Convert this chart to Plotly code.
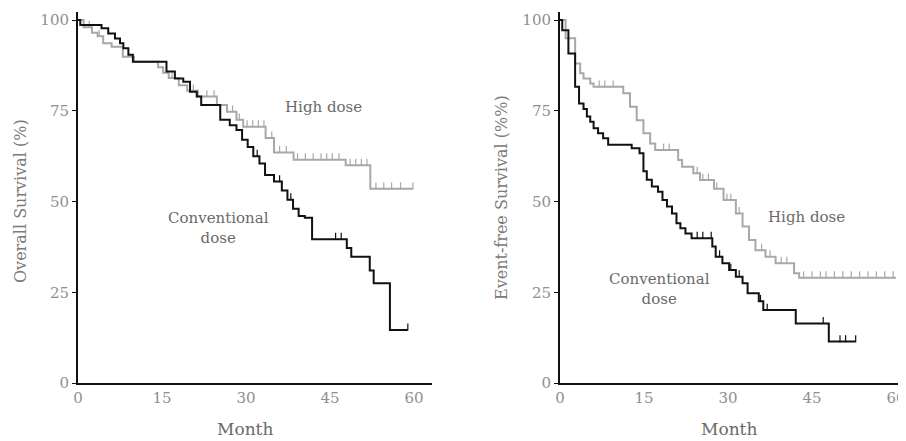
import numpy as np
import plotly.graph_objects as go

# ---------------- data ----------------
# Overall survival, conventional dose (drop times, survival after drop)
os_conv_t = [0, 0.4, 4.2, 5.4, 6.6, 7.5, 8.1, 9.0, 9.8, 15.8, 17.3, 18.8, 20.0, 21.2, 22.0, 25.4, 27.1, 28.3,
             29.3, 30.3, 31.3, 32.4, 33.4, 35.0, 36.4, 37.4, 38.4, 39.4, 40.5, 41.8, 48.0, 48.8, 52.1, 52.8, 55.7]
os_conv_s = [100, 98.6, 97.7, 96.3, 94.9, 93.6, 92.2, 90.4, 88.5, 85.8, 83.9, 83.0, 80.2, 78.9, 76.6, 72.5, 71.0, 69.7,
             67.0, 65.0, 62.5, 60.5, 57.3, 55.5, 53.0, 50.5, 48.0, 46.0, 45.5, 39.6, 37.2, 34.8, 31.0, 27.5, 14.6]
os_conv_end = 58.9
os_conv_cens = [32.0, 36.0, 38.0, 46.0, 47.0, 58.9]

# Overall survival, high dose
os_high_t = [0, 1.0, 2.5, 3.5, 4.5, 6.0, 8.0, 10.0, 14.3, 15.2, 16.2, 18.0, 19.5, 21.4, 24.8, 26.6, 28.3, 29.5,
             33.5, 35.0, 38.5, 47.8, 52.2]
os_high_s = [100, 98.0, 96.5, 95.5, 93.6, 92.6, 89.9, 88.5, 87.0, 85.5, 84.0, 82.0, 80.5, 78.9, 76.6, 74.7, 72.5, 70.6,
             67.5, 63.5, 61.5, 60.0, 53.5]
os_high_end = 59.8
os_high_cens = [2.0, 3.8, 9.0, 16.8, 20.6, 23.0, 24.3, 27.6, 28.8, 30.2, 31.2, 32.2, 33.2, 34.6, 36.0, 37.2,
                39.2, 40.6, 42.0, 43.4, 44.4, 45.4, 46.6, 48.6, 49.6, 50.6, 51.6, 53.2, 54.6, 56.0, 57.6, 59.8]

# Event-free survival, conventional dose
efs_conv_t = [0, 0.4, 1.5, 2.7, 3.4, 4.2, 4.8, 5.4, 6.0, 6.8, 7.7, 8.6, 12.8, 14.2, 14.9, 15.5, 16.4, 17.5, 18.3,
              19.1, 20.0, 20.8, 21.5, 22.4, 23.5, 27.2, 27.8, 29.0, 30.2, 31.4, 32.6, 33.5, 35.5, 36.3, 42.1, 48.0]
efs_conv_s = [100, 97.2, 90.8, 81.6, 77.0, 75.5, 73.4, 72.0, 70.2, 68.8, 67.4, 65.6, 64.7, 63.3, 58.3, 56.0, 54.1,
              52.7, 50.4, 48.6, 46.7, 44.0, 42.6, 41.2, 39.9, 37.6, 34.8, 33.0, 31.1, 29.3, 27.5, 24.7, 22.5, 20.1,
              16.4, 11.4]
efs_conv_end = 52.8
efs_conv_cens = [24.5, 25.5, 27.0, 28.5, 30.5, 32.0, 35.8, 37.0, 47.0, 50.0, 51.0, 52.8]

# Event-free survival, high dose
efs_high_t = [0, 1.0, 2.7, 3.6, 4.2, 5.4, 6.0, 11.3, 12.5, 13.7, 14.9, 16.1, 17.0, 21.1, 21.8, 23.8, 25.0, 27.5,
              29.2, 31.4, 32.6, 33.75, 34.9, 36.7, 38.5, 41.8, 42.7]
efs_high_s = [100, 95.0, 88.0, 85.3, 83.9, 82.5, 81.6, 79.8, 76.1, 72.4, 68.8, 66.0, 64.2, 61.4, 59.6, 57.8, 55.9,
              53.5, 50.4, 46.7, 43.1, 39.4, 36.6, 34.8, 33.0, 30.2, 29.0]
efs_high_end = 60.0
efs_high_cens = [7.0, 8.0, 9.5, 18.5, 19.5, 24.5, 25.5, 26.5, 28.0, 29.8, 30.5, 32.0, 36.0, 37.5, 39.5, 40.5,
                 43.5, 45.0, 46.5, 47.5, 49.0, 50.5, 52.0, 53.5, 55.0, 56.5, 58.0, 59.5]

x_ticks = [0, 15, 30, 45, 60]
y_ticks = [0, 25, 50, 75, 100]

# ---------------- figure ----------------
OFF = 8                      # page body margin
W, H = 906 - OFF, 441 - OFF  # figure size that fits the window
BLACK = "#111111"
GRAY = "#a8a8a8"
FONT = "DejaVu Serif"


def X(p):
    return (p - OFF) / W


def Y(p):
    return 1 - (p - OFF) / H


fig = go.Figure()


def add_km(t, s, end, cens, color, xa, ya):
    xs = list(t) + [end]
    ys = list(s) + [s[-1]]
    fig.add_trace(go.Scatter(x=xs, y=ys, mode="lines", line=dict(color=color, width=2, shape="hv"),
                             xaxis=xa, yaxis=ya, hoverinfo="skip", showlegend=False, cliponaxis=False))
    ta = np.array(t)
    sa = np.array(s)
    cy = [sa[np.searchsorted(ta, c, side="right") - 1] + 0.8 for c in cens]
    fig.add_trace(go.Scatter(x=cens, y=cy, mode="markers",
                             marker=dict(symbol="line-ns", size=5, line=dict(color=color, width=1.2)),
                             xaxis=xa, yaxis=ya, hoverinfo="skip", showlegend=False, cliponaxis=False))


add_km(os_high_t, os_high_s, os_high_end, os_high_cens, GRAY, "x", "y")
add_km(os_conv_t, os_conv_s, os_conv_end, os_conv_cens, BLACK, "x", "y")
add_km(efs_high_t, efs_high_s, efs_high_end, efs_high_cens, GRAY, "x2", "y2")
add_km(efs_conv_t, efs_conv_s, efs_conv_end, efs_conv_cens, BLACK, "x2", "y2")

ydom = [Y(383), Y(12)]
yrange = [0, (383 - 12) / 3.63]

axis_common = dict(showgrid=False, zeroline=False, showline=True, linecolor=BLACK, linewidth=2,
                   automargin=False,
                   tickfont=dict(family=FONT, size=15, color="#8f8f8f"))

fig.update_layout(
    width=W, height=H, margin=dict(l=0, r=0, t=0, b=0, pad=0, autoexpand=False),
    paper_bgcolor="white", plot_bgcolor="white",
    xaxis=dict(domain=[X(78), X(432)], range=[0, 354 / 5.6], tickvals=x_ticks, ticks="",
               anchor="y", **axis_common),
    yaxis=dict(domain=ydom, range=yrange, tickvals=y_ticks, ticks="outside", ticklen=4, tickcolor=BLACK,
               anchor="x", **axis_common),
    xaxis2=dict(domain=[X(560), 1.0], range=[0, 346 / 5.6], tickvals=x_ticks, ticks="",
                anchor="y2", **axis_common),
    yaxis2=dict(domain=ydom, range=yrange, tickvals=y_ticks, ticks="outside", ticklen=4, tickcolor=BLACK,
                anchor="x2", **axis_common),
)

ann_font = dict(family=FONT, size=15, color="#6a6a6a")
title_font = dict(family=FONT, size=16, color="#7a7a7a")
texts = [
    (323, 107, "High dose", 0, ann_font),
    (218, 228, "Conventional<br>dose", 0, ann_font),
    (806, 217, "High dose", 0, ann_font),
    (659, 289, "Conventional<br>dose", 0, ann_font),
    (20, 201, "Overall Survival (%)", -90, title_font),
    (501, 198, "Event-free Survival (%%)", -90, title_font),
    (245, 429, "Month", 0, dict(family=FONT, size=17, color="#6a6a6a")),
    (729, 429, "Month", 0, dict(family=FONT, size=17, color="#6a6a6a")),
]
for x, y, t, ang, f in texts:
    fig.add_annotation(x=X(x), y=Y(y), xref="paper", yref="paper", text=t, showarrow=False, textangle=ang,
                       font=f, xanchor="center", yanchor="middle")

fig.write_html("out.html")
